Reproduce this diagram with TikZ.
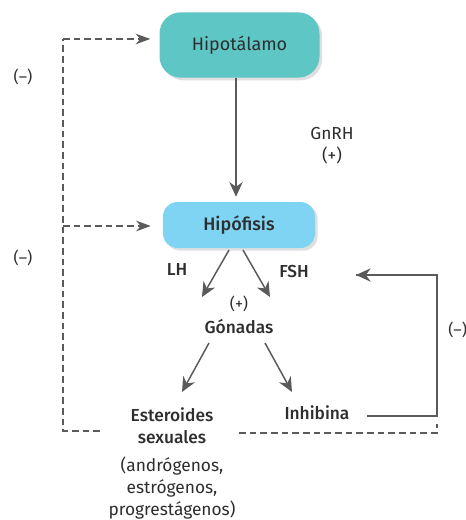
\documentclass[tikz,border=0pt]{standalone}
\usepackage{fontspec}
\setmainfont{Fira Sans}[BoldFont={Fira Sans Medium}]
\usetikzlibrary{arrows.meta,shadows,calc}
\definecolor{teal1}{HTML}{5EC6C4}
\definecolor{blue1}{HTML}{7FD3F3}
\definecolor{txt}{HTML}{2E2E2E}
\definecolor{ln}{HTML}{5A5A5A}
\begin{document}
\begin{tikzpicture}[x=0.75pt,y=-0.75pt,
  box/.style={rounded corners=#1, text=txt, font=\fontsize{13.5}{16}\selectfont,
    drop shadow={opacity=0.25, shadow xshift=2pt, shadow yshift=-2pt}},
  lbl/.style={text=txt, font=\fontsize{13}{16}\selectfont, inner sep=0pt},
  blbl/.style={text=txt, font=\fontsize{13}{16.5}\selectfont\bfseries, inner sep=0pt, align=center},
  arr/.style={draw=ln, line width=1.1pt, -{Stealth[length=11pt,width=10pt]}},
  dasharr/.style={draw=ln, line width=1pt, dashed, dash pattern=on 5pt off 3pt, -{Stealth[length=11pt,width=8pt]}},
  dashln/.style={draw=ln, line width=1pt, dash pattern=on 5pt off 3pt},
  solidln/.style={draw=ln, line width=0.9pt}]
\useasboundingbox (0,0) rectangle (466,520);
\fill[white] (0,0) rectangle (466,520);

\node[box=16pt, fill=teal1, minimum width=120pt, minimum height=49pt] (hyp) at (239.5,45) {Hipotálamo};
\node[box=11pt, fill=blue1, minimum width=114pt, minimum height=34.5pt, font=\fontsize{13.5}{16}\selectfont\bfseries] (hipo) at (239,225) {Hipófisis};

\node[lbl] (gnrh) at (332,134) {GnRH};
\node[lbl] (gnp) at (332,155) {(+)};

\node[blbl] (lh) at (177,270) {LH};
\node[blbl] (fsh) at (294,272) {FSH};
\node[lbl, font=\fontsize{12}{14}\selectfont] (gp) at (239,304) {(+)};
\node[blbl] (gon) at (239,327) {Gónadas};

\node[blbl] (est) at (172,426) {Esteroides\\sexuales};
\node[lbl, align=center, font=\fontsize{13}{16.5}\selectfont] (estx) at (172,488) {(andrógenos,\\estrógenos,\\progrestágenos)};
\node[blbl] (inh) at (317,413) {Inhibina};

\node[lbl, font=\fontsize{12}{14}\selectfont] (m1) at (23,77) {(–)};
\node[lbl, font=\fontsize{12}{14}\selectfont] (m2) at (23,258) {(–)};
\node[lbl, anchor=west, font=\fontsize{12}{14}\selectfont] (m3) at (448,330) {(–)};

% main arrows
\draw[arr] ($(hyp.south)+(-3.5,0)$) -- ($(hipo.north)+(-3,-5)$);
\draw[arr] (229,250) -- (202,297);
\draw[arr] (243,250) -- (270,297);
\draw[arr] (209,343) -- (182,392);
\draw[arr] (265,343) -- (292,392);

% inhibina feedback
\coordinate (ir) at (367,416);
\coordinate (ic) at (437,416);
\coordinate (it) at (437,275);
\coordinate (ia) at (356,275);
\draw[solidln] (ir) -- (ic) -- (it) -- (ia);
\draw[arr, line width=0.9pt] (it) -- (ia);

% steroid feedback (dashed)
\coordinate (dl) at (100,431);
\coordinate (dc) at (63,431);
\coordinate (dt) at (63,39);
\coordinate (dm) at (63,226);
\coordinate (dr1) at (239,433);
\coordinate (dr2) at (437,433);
\coordinate (dr3) at (437,424);
\draw[dashln] (dl) -- (dc) -- (dt);
\draw[dasharr] (dt) -- ($(hyp.west |- dt)+(-9,0)$);
\draw[dasharr] (dm) -- ($(hipo.west |- dm)+(-12,0)$);
\draw[dashln] (dr1) -- (dr2) -- (dr3);
\end{tikzpicture}
\end{document}
